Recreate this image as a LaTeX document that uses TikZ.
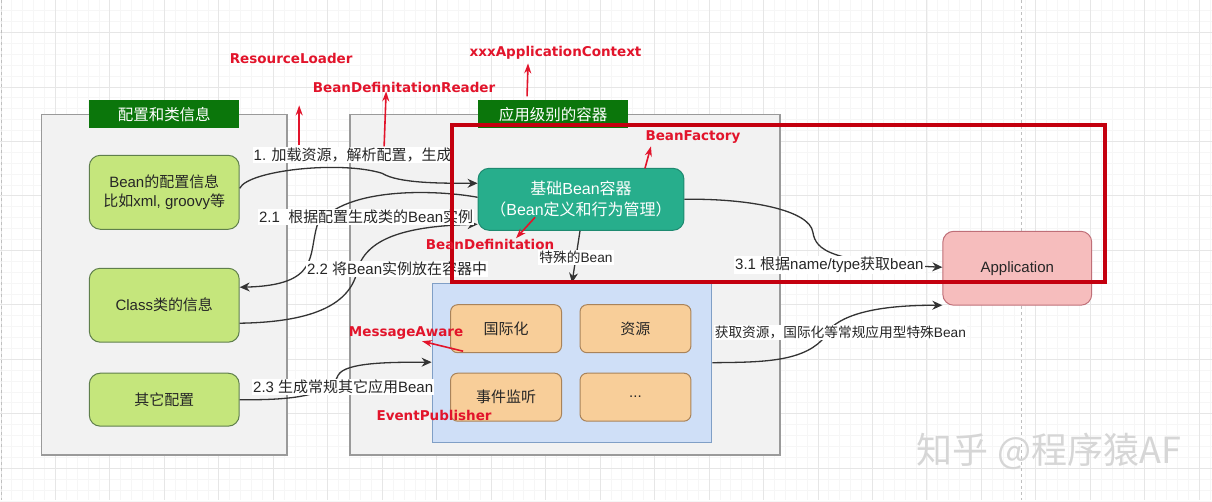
\documentclass[tikz,border=0pt]{standalone}
\usepackage{fontspec}
\setmainfont{Liberation Sans}
\newfontfamily\cjk{Noto Sans CJK SC}
\newfontfamily\notefont{DejaVu Sans}
\newcommand{\zh}[1]{{\cjk #1}}
\usetikzlibrary{arrows.meta}
\definecolor{panelfill}{HTML}{F2F2F2}
\definecolor{panelline}{HTML}{9A9A9A}
\definecolor{titlegreen}{HTML}{0B760B}
\definecolor{cfgfill}{HTML}{C5E67C}
\definecolor{cfgline}{HTML}{5F7F4C}
\definecolor{corefill}{HTML}{27AE8C}
\definecolor{coreline}{HTML}{1E8A70}
\definecolor{blockfill}{HTML}{CFDFF7}
\definecolor{blockline}{HTML}{809FC6}
\definecolor{orangefill}{HTML}{F8CE99}
\definecolor{orangeline}{HTML}{A9835A}
\definecolor{appfill}{HTML}{F6BDBD}
\definecolor{appline}{HTML}{BF6F78}
\definecolor{framered}{HTML}{C4000F}
\definecolor{notered}{HTML}{E2142B}
\definecolor{gridminor}{HTML}{F6F6F6}
\definecolor{gridmajor}{HTML}{E6E6E6}
\begin{document}
\begin{tikzpicture}[x = 1pt, y = -1pt, every node/.style = {inner sep = 0pt, align = center, text = black!85, font = \fontsize{15}{19}\selectfont}, panel/.style = {draw = panelline, fill = panelfill, line width = 1.5pt}, titlebar/.style = {fill = titlegreen, text = white, minimum width = 150pt, minimum height = 28pt, font = \fontsize{15.5}{19}\selectfont}, cfgbox/.style = {draw = cfgline, fill = cfgfill, line width = 1pt, rounded corners = 11pt, minimum width = 150pt}, corebox/.style = {draw = coreline, fill = corefill, text = white, line width = 1pt, rounded corners = 11pt, minimum width = 206pt, minimum height = 62pt, font = \fontsize{16}{21}\selectfont}, blockbox/.style = {draw = blockline, fill = blockfill, line width = 1pt, minimum width = 280pt, minimum height = 159pt}, orangebox/.style = {draw = orangeline, fill = orangefill, line width = 1pt, rounded corners = 7pt, minimum width = 111pt, minimum height = 48pt}, appbox/.style = {draw = appline, fill = appfill, line width = 1pt, rounded corners = 11pt, minimum width = 149pt, minimum height = 74pt}, redframe/.style = {draw = framered, line width = 4pt, minimum width = 653pt, minimum height = 157pt}, flow/.style = {draw = black!80, line width = 1.3pt, -{Stealth[length = 10pt, width = 9pt]}}, steplabel/.style = {fill = white, inner xsep = 1pt, inner ysep = 1pt}, smalllabel/.style = {steplabel, font = \fontsize{13.7}{17}\selectfont}, note/.style = {text = notered, font = \notefont\bfseries\fontsize{13.5}{16}\selectfont}, notearrow/.style = {draw = notered, line width = 1.6pt, -{Stealth[length = 10pt, width = 7pt]}}]
    \fill[white] (0, 0) rectangle (1212, 500);
    \foreach \k in {0, ..., 111} \draw[gridminor, line width = 0.6pt] (0.5 + 10.9 * \k, 0) -- (0.5 + 10.9 * \k, 500);
    \foreach \k in {0, ..., 45} \draw[gridminor, line width = 0.6pt] (0, 32 + 10.9 * \k - 21.8) -- (1212, 32 + 10.9 * \k - 21.8);
    \foreach \k in {0, ..., 22} \draw[gridmajor, line width = 0.7pt] (0.5 + 54.5 * \k, 0) -- (0.5 + 54.5 * \k, 500);
    \foreach \k in {0, ..., 8} \draw[gridmajor, line width = 0.7pt] (0, 32 + 54.5 * \k) -- (1212, 32 + 54.5 * \k);
    \draw[black!25, dashed, line width = 0.8pt] (1022, 0) -- (1022, 500);
    \draw[black!25, dashed, line width = 0.8pt] (1, 0) -- (1, 500);

    \node[panel, minimum width = 246pt, minimum height = 341pt] (configpanel) at (164, 284.5) {};
    \node[panel, minimum width = 430pt, minimum height = 341pt] (contextpanel) at (565, 284.5) {};
    \node[titlebar] (configtitle) at (164, 114) {\zh{配置和类信息}};
    \node[titlebar] (contexttitle) at (553, 114) {\zh{应用级别的容器}};

    \node[cfgbox, minimum height = 74pt] (beancfg) at (164, 192) {Bean\zh{的配置信息}\\\zh{比如}xml, groovy\zh{等}};
    \node[cfgbox, minimum height = 74pt] (classinfo) at (164, 305) {Class\zh{类的信息}};
    \node[cfgbox, minimum height = 53pt] (othercfg) at (164, 399.5) {\zh{其它配置}};

    \node[corebox] (core) at (581, 199) {\zh{基础}Bean\zh{容器}\\\zh{（}Bean\zh{定义和行为管理）}};
    \node[blockbox] (special) at (572, 362.5) {};
    \node[orangebox] (i18n) at (506, 328.5) {\zh{国际化}};
    \node[orangebox] (resource) at (635.5, 328.5) {\zh{资源}};
    \node[orangebox] (events) at (506, 397) {\zh{事件监听}};
    \node[orangebox] (more) at (635.5, 397) {...};
    \node[appbox] (app) at (1017.5, 268) {Application};

    \draw[flow] ([yshift = 4pt]beancfg.east) .. controls (248, 170) and (340, 160) .. (382, 173) .. controls (398, 183) and (440, 183) .. ([yshift = 16pt]core.west);
    \draw[flow] ([yshift = 2pt]core.west) .. controls (440, 190) and (345, 185) .. (317, 225) .. controls (308, 255) and (320, 285) .. ([yshift = 18pt]classinfo.east);
    \draw[flow] ([yshift = -18pt]classinfo.east) .. controls (300, 322) and (345, 310) .. (356, 275) .. controls (362, 240) and (400, 226) .. ([yshift = -25pt]core.west);
    \draw[flow] (othercfg.east) .. controls (280, 400) and (330, 398) .. (338, 375) .. controls (345, 362) and (390, 362) .. ([yshift = 0.5pt]special.west);
    \draw[flow] ([xshift = -1pt]core.south) -- (special.north);
    \draw[flow] (core.east) .. controls (750, 198) and (810, 210) .. (813, 232) .. controls (816, 250) and (830, 262) .. ([yshift = 1pt]app.west);
    \draw[flow] (special.east) .. controls (760, 362) and (800, 362) .. (822, 340) .. controls (835, 310) and (890, 305) .. ([yshift = -37pt]app.west);

    \node[steplabel] (step1) at (352.5, 155) {1. \zh{加载资源，解析配置，生成}};
    \node[steplabel] (step21) at (366, 217) {2.1 \ \zh{根据配置生成类的}Bean\zh{实例}};
    \node[steplabel] (step22) at (397, 269) {2.2 \zh{将}Bean\zh{实例放在容器中}};
    \node[steplabel] (step23) at (343, 387) {2.3 \zh{生成常规其它应用}Bean};
    \node[smalllabel] (stepspecial) at (576, 257) {\zh{特殊的}Bean};
    \node[steplabel] (step31) at (829.5, 265) {3.1 \zh{根据}name/type\zh{获取}bean};
    \node[smalllabel] (stepres) at (840.5, 332) {\zh{获取资源，国际化等常规应用型特殊}Bean};

    \node[redframe] (beanfactory) at (778.5, 203.5) {};

    \node[note] (resloader) at (291, 58) {ResourceLoader};
    \node[note] (defreader) at (404, 87) {BeanDefinitationReader};
    \node[note] (appctx) at (555.5, 52) {xxxApplicationContext};
    \node[note] (factorynote) at (693, 137) {BeanFactory};
    \node[note] (defnote) at (490, 244) {BeanDefinitation};
    \node[note] (msgaware) at (406, 333) {MessageAware};
    \node[note] (evtpub) at (434, 415) {EventPublisher};
    \coordinate (loaderfoot) at (299, 145);
    \coordinate (loadertip) at (299, 105);
    \coordinate (readerfoot) at (384, 146);
    \coordinate (readertip) at (386, 91);
    \coordinate (ctxfoot) at (527, 96);
    \coordinate (ctxtip) at (528, 63);
    \coordinate (factoryfoot) at (645, 168);
    \coordinate (factorytip) at (651, 146);
    \coordinate (deffoot) at (535, 217);
    \coordinate (deftip) at (516, 238);
    \coordinate (msgfoot) at (463, 351);
    \coordinate (msgtip) at (422, 341);
    \draw[notearrow] (loaderfoot) -- (loadertip);
    \draw[notearrow] (readerfoot) -- (readertip);
    \draw[notearrow] (ctxfoot) -- (ctxtip);
    \draw[notearrow] (factoryfoot) -- (factorytip);
    \draw[notearrow] (deffoot) -- (deftip);
    \draw[notearrow] (msgfoot) -- (msgtip);

    \node[text = black!16, font = \cjk\fontsize{36}{40}\selectfont, anchor = west] (watermark) at (916, 451) {知乎\hspace{10pt}@程序猿AF};
    \useasboundingbox (0, 0) rectangle (1212, 500);
\end{tikzpicture}
\end{document}
